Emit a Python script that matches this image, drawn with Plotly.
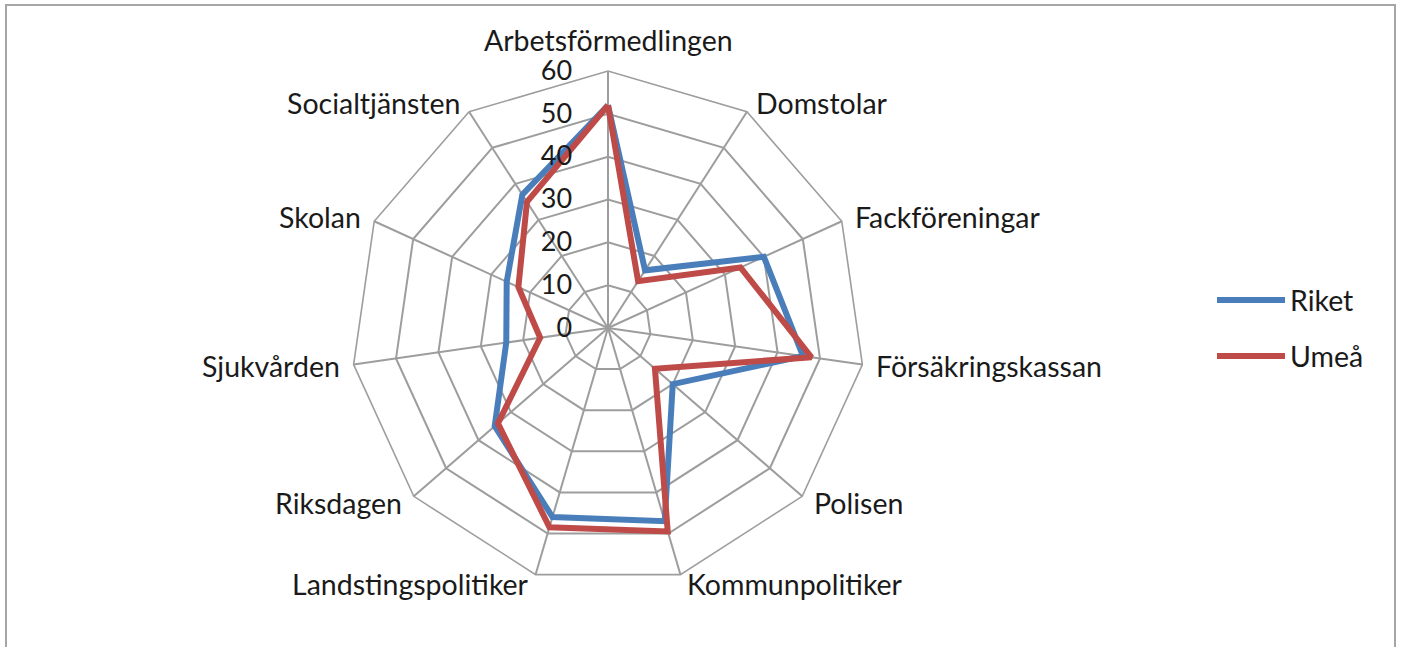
import math
import plotly.graph_objects as go

categories = ["Arbetsförmedlingen", "Domstolar", "Fackföreningar", "Försäkringskassan",
              "Polisen", "Kommunpolitiker", "Landstingspolitiker", "Riksdagen",
              "Sjukvården", "Skolan", "Socialtjänsten"]
riket = [52, 16, 40, 46, 20, 47, 46, 35, 24, 26, 37]
umea = [52, 13, 34, 48, 14.5, 49.5, 48.5, 34, 16, 23, 35]
radial_ticks = [0, 10, 20, 30, 40, 50, 60]

W, H = 1401, 647
cx, cy, R = 608, 328, 257

FONT = "Lato"
TXT = "#1a1a1a"
GRID = "#9d9d9d"
LBL = 28.5

fig = go.Figure()
fig.add_trace(go.Scatterpolar(
    r=riket + riket[:1], theta=categories + categories[:1], mode="lines",
    name="Riket", line=dict(color="#4A7EBB", width=6), legendgroup="a"))
fig.add_trace(go.Scatterpolar(
    r=umea + umea[:1], theta=categories + categories[:1], mode="lines",
    name="Umeå", line=dict(color="#BE4B48", width=6), legendgroup="b"))

# category labels placed just outside the outer polygon vertices (Excel-like)
annotations = []
n = len(categories)
for i, name in enumerate(categories):
    a = math.radians(i * 360 / n)
    s, c = math.sin(a), math.cos(a)
    vx, vy = cx + R * s, cy - R * c
    if abs(s) < 0.05:
        ax, ay, xa, ya = vx, vy - 13, "center", "bottom"
    else:
        ax = vx + 11 * s + (2 if s > 0 else -2)
        ay = vy - 10 * c
        xa, ya = ("left" if s > 0 else "right"), "middle"
    annotations.append(dict(text=name, xref="paper", yref="paper",
                            x=ax / W, y=1 - ay / H, xanchor=xa, yanchor=ya,
                            showarrow=False, borderpad=0,
                            font=dict(family=FONT, size=LBL, color=TXT)))

fig.update_layout(
    width=W, height=H,
    margin=dict(l=0, r=0, t=0, b=0),
    paper_bgcolor="white",
    font=dict(family=FONT, size=LBL, color=TXT),
    polar=dict(
        domain=dict(x=[(cx - R) / W, (cx + R) / W],
                    y=[(H - cy - R) / H, (H - cy + R) / H]),
        bgcolor="white",
        gridshape="linear",
        radialaxis=dict(range=[0, 60], tickvals=radial_ticks, angle=90,
                        side="counterclockwise", tickangle=90,
                        showline=False, gridcolor=GRID, gridwidth=1.6,
                        ticks="outside", ticklen=26, tickcolor="rgba(0,0,0,0)",
                        tickfont=dict(family=FONT, size=27, color=TXT)),
        angularaxis=dict(direction="clockwise", rotation=90,
                         categoryorder="array", categoryarray=categories,
                         showline=True, linecolor=GRID, linewidth=1.6,
                         gridcolor=GRID, gridwidth=1.6,
                         showticklabels=False, ticks=""),
    ),
    legend=dict(x=1212 / W, y=(H - 275) / H, xanchor="left", yanchor="top",
                font=dict(family=FONT, size=LBL, color=TXT),
                tracegroupgap=16, traceorder="grouped", itemwidth=68,
                bgcolor="rgba(0,0,0,0)"),
    annotations=annotations,
    shapes=[dict(type="rect", xref="paper", yref="paper",
                 x0=6 / W, x1=1395 / W, y0=-0.2, y1=(H - 5) / H,
                 line=dict(color="#a6a6a6", width=2))],
)

fig.write_html("out.html", config={"displayModeBar": False},
               post_script="document.body.style.margin='0';document.body.style.overflow='hidden';")
